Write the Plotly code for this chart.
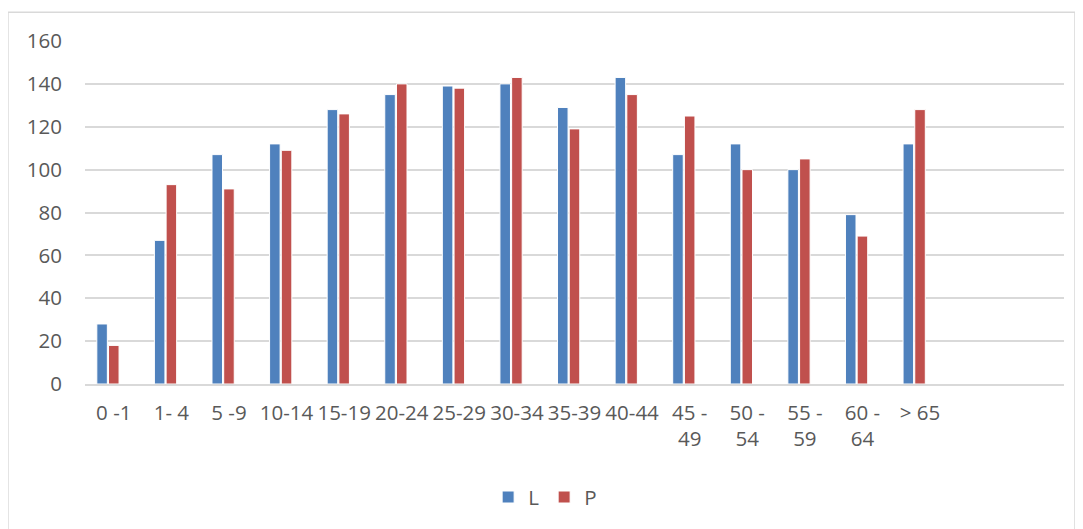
import plotly.graph_objects as go

categories = ["0 -1", "1- 4", "5 -9", "10-14", "15-19", "20-24", "25-29", "30-34",
              "35-39", "40-44", "45 -<br>49", "50 -<br>54", "55 -<br>59", "60 -<br>64", "> 65", " ", "  "]
L_values = [28, 67, 107, 112, 128, 135, 139, 140, 129, 143, 107, 112, 100, 79, 112, None, None]
P_values = [18, 93, 91, 109, 126, 140, 138, 143, 119, 135, 125, 100, 105, 69, 128, None, None]
empty_values = [None] * len(categories)
y_ticks = [0, 20, 40, 60, 80, 100, 120, 140, 160]

font_family = "Open Sans, Liberation Sans, sans-serif"
text_color = "#595959"
fs = 20.5

fig = go.Figure()
fig.add_trace(go.Bar(x=categories, y=L_values, name="L",
                     marker=dict(color="#4F81BD", line=dict(color="white", width=1))))
fig.add_trace(go.Bar(x=categories, y=P_values, name="P",
                     marker=dict(color="#C0504D", line=dict(color="white", width=1))))
fig.add_trace(go.Bar(x=categories, y=empty_values, name="", showlegend=False,
                     marker=dict(color="#9BBB59")))

fig.update_layout(
    width=1075, height=521,
    margin=dict(l=77, r=19, t=33, b=143),
    paper_bgcolor="white", plot_bgcolor="white",
    barmode="group", bargap=0.39, bargroupgap=0.1,
    font=dict(family=font_family, size=fs, color=text_color),
    showlegend=True,
    legend=dict(orientation="h", x=0.47, xanchor="center", y=-0.33, yanchor="middle",
                font=dict(size=fs, color=text_color), traceorder="normal"),
    xaxis=dict(type="category", categoryorder="array", categoryarray=categories,
               showgrid=False, showline=True, linecolor="#D9D9D9", linewidth=2,
               ticks="", tickangle=0, ticklabelstandoff=9,
               tickfont=dict(size=fs, color=text_color)),
    yaxis=dict(range=[0, 160], tickvals=y_ticks, showgrid=True, gridcolor="#D9D9D9",
               gridwidth=1.5, zeroline=False, showline=False, ticks="",
               ticklabelstandoff=22, tickfont=dict(size=fs, color=text_color)),
    shapes=[dict(type="rect", xref="paper", yref="paper",
                 x0=-0.0787, x1=1.0112, y0=-0.45, y1=1.084,
                 line=dict(color="#D9D9D9", width=1.5), fillcolor="rgba(0,0,0,0)", layer="below")],
)

fig.write_html("out.html")
